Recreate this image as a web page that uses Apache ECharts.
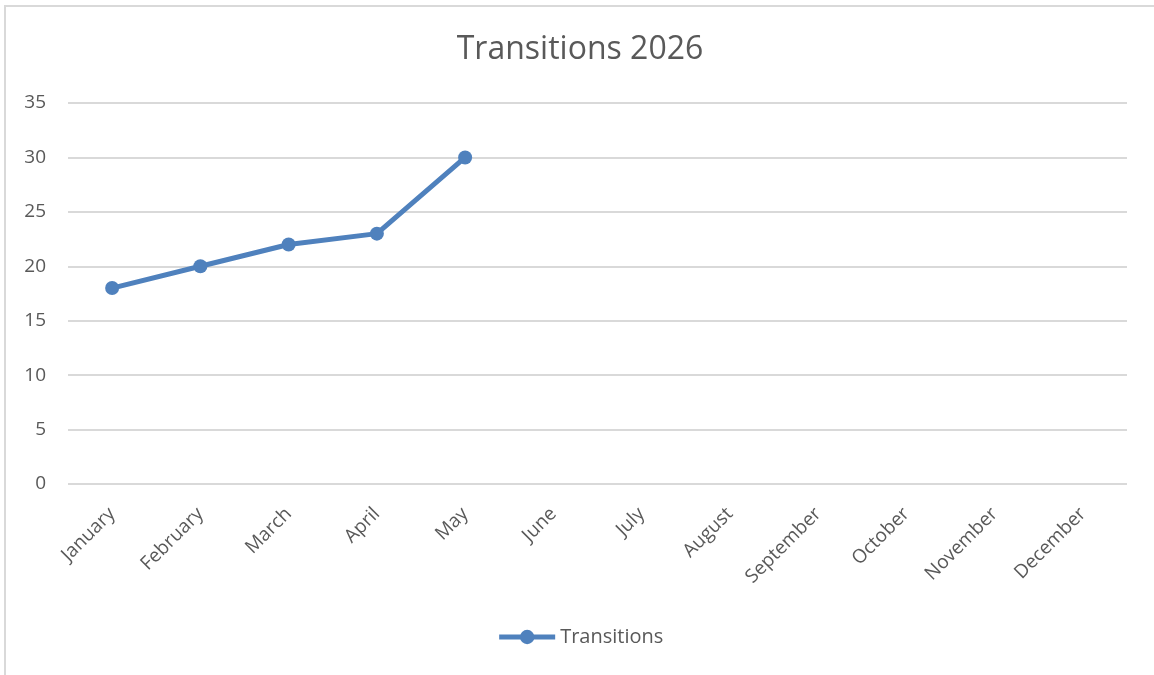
<!DOCTYPE html>
<html>
<head>
<meta charset="utf-8">
<script src="https://cdn.jsdelivr.net/npm/echarts@6/dist/echarts.min.js"></script>
<style>
  html, body { margin: 0; padding: 0; background: #fff; }
  #chart { position: absolute; left: 4px; top: 5px; width: 1150px; height: 670px;
           border-left: 2px solid #d9d9d9; border-top: 2px solid #d9d9d9; box-sizing: border-box; }
</style>
</head>
<body>
<div id="chart"></div>
<script>
var months = ['January', 'February', 'March', 'April', 'May', 'June', 'July',
              'August', 'September', 'October', 'November', 'December'];
var transitions = [18, 20, 22, 23, 30, null, null, null, null, null, null, null];
var yTicks = { min: 0, max: 35, step: 5 };

var fontFam = '"Open Sans", sans-serif';
var textColor = '#595959';
var lineColor = '#4f81bd';

var myChart = echarts.init(document.getElementById('chart'));

var option = {
    animation: false,
    title: {
        text: 'Transitions 2026',
        left: 'center',
        top: 22,
        textStyle: { color: textColor, fontSize: 32, fontWeight: 'normal', fontFamily: fontFam }
    },
    legend: {
        bottom: 23,
        left: 'center',
        itemWidth: 56,
        itemHeight: 18,
        itemGap: 4,
        lineStyle: { width: 5 },
        textStyle: { color: textColor, fontSize: 20, fontFamily: fontFam },
        data: ['Transitions']
    },
    grid: { left: 62, right: 27, top: 96, bottom: 191 },
    xAxis: {
        type: 'category',
        data: months,
        boundaryGap: true,
        axisLine: { show: false },
        axisTick: { show: false },
        axisLabel: { rotate: 45, margin: 27, color: textColor, fontSize: 19, fontFamily: fontFam }
    },
    yAxis: {
        type: 'value',
        min: yTicks.min,
        max: yTicks.max,
        interval: yTicks.step,
        axisLine: { show: false },
        axisTick: { show: false },
        axisLabel: { margin: 22, color: textColor, fontSize: 19, fontFamily: fontFam },
        splitLine: { lineStyle: { color: '#d9d9d9', width: 2 } }
    },
    series: [{
        name: 'Transitions',
        type: 'line',
        data: transitions,
        symbol: 'circle',
        symbolSize: 14,
        itemStyle: { color: lineColor },
        lineStyle: { color: lineColor, width: 5 }
    }]
};
myChart.setOption(option);
</script>
</body>
</html>
